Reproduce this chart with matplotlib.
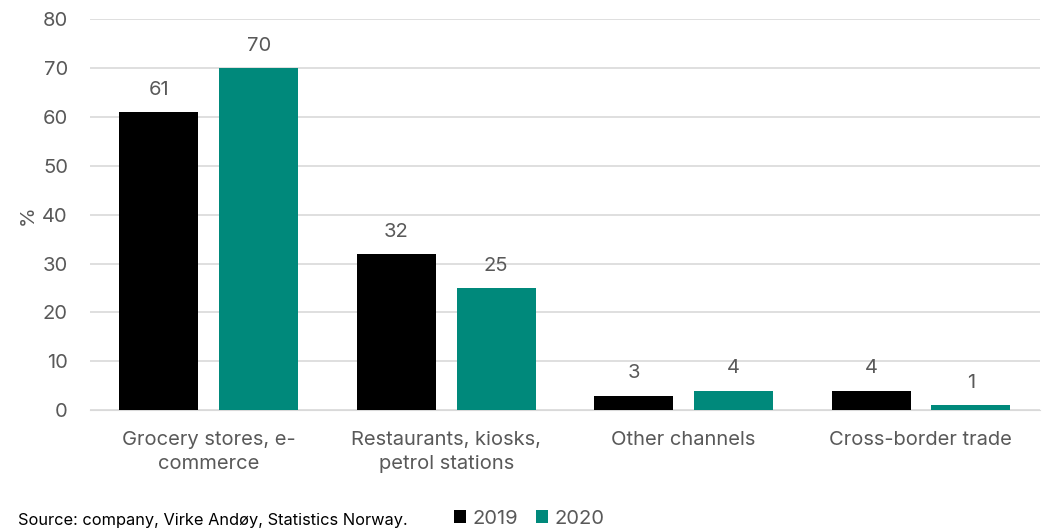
import matplotlib.pyplot as plt
import numpy as np

plt.rcParams['font.family'] = ['Inter', 'DejaVu Sans']

categories = ["Grocery stores, e-\ncommerce", "Restaurants, kiosks,\npetrol stations",
              "Other channels", "Cross-border trade"]
values_2019 = [61, 32, 3, 4]
values_2020 = [70, 25, 4, 1]
series_labels = ["2019", "2020"]
colors = ["#000000", "#00897b"]
grey = "#595959"

fig = plt.figure(figsize=(10.48, 5.3), dpi=100)
ax = fig.add_axes([0.086, 0.226, 0.906, 0.738])

x = np.arange(len(categories))
w = 0.333
off = 0.21
b1 = ax.bar(x - off, values_2019, w, color=colors[0], label=series_labels[0], zorder=3)
b2 = ax.bar(x + off, values_2020, w, color=colors[1], label=series_labels[1], zorder=3)

for bars in (b1, b2):
    for rect in bars:
        h = rect.get_height()
        ax.text(rect.get_x() + rect.get_width() / 2, h + 2.7, f"{h:g}",
                ha='center', va='bottom', fontsize=14.5, color=grey)

ax.set_xlim(-0.5, len(categories) - 0.5)
ax.set_ylim(0, 80)
ax.set_yticks(range(0, 81, 10))
ax.yaxis.grid(True, color="#d9d9d9", linewidth=1.2, zorder=0)
ax.tick_params(axis='y', length=0, labelsize=14.5, labelcolor=grey, pad=16)
ax.tick_params(axis='x', length=0, labelsize=14.5, labelcolor=grey, pad=15)
ax.set_xticks(x)
ax.set_xticklabels(categories, linespacing=1.45)
for s in ax.spines.values():
    s.set_visible(False)
ax.spines['bottom'].set_visible(True)
ax.spines['bottom'].set_color("#d9d9d9")
ax.set_ylabel("%", fontsize=14.5, color=grey, labelpad=4)

fig.text(0.017, 0.003, "Source: company, Virke Andøy, Statistics Norway.",
         fontsize=11.8, color="#000000", va='bottom')
leg = fig.legend(handles=[b1, b2], labels=series_labels, loc='lower left',
                 bbox_to_anchor=(0.416, -0.03), ncol=2, frameon=False,
                 fontsize=14.5, handlelength=0.6, handleheight=0.6,
                 handletextpad=0.3, columnspacing=0.9)
for t in leg.get_texts():
    t.set_color(grey)

fig.savefig("out.png", dpi=100)
